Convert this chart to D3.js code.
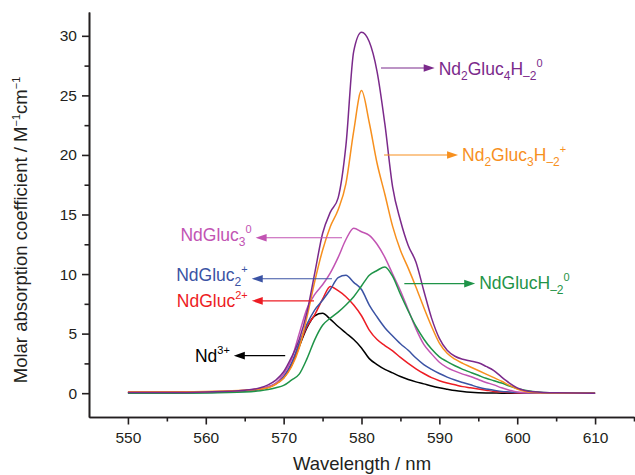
<!DOCTYPE html>
<html>
<head>
<meta charset="utf-8">
<script src="https://cdn.jsdelivr.net/npm/d3@7"></script>
<style>
  body { margin: 0; background: #fff; }
  svg { font-family: "Liberation Sans", Arial, sans-serif; }
  .axis path, .axis line { stroke: #231f20; stroke-width: 1.6; }
  .axis text { font-size: 15.5px; fill: #231f20; font-family: "Liberation Sans", Arial, sans-serif; }
</style>
</head>
<body>
<svg width="635" height="475"></svg>
<script>
// wavelength grid (nm)
var wavelength = [550, 555, 560, 565, 567, 568, 569, 570, 571, 572, 573, 574, 575, 576, 577, 578, 579, 580,
  581, 582, 583, 584, 585, 586, 587, 588, 589, 590, 591, 592, 593, 594, 595, 596, 597, 598, 599, 600, 602, 605, 610];

// molar absorption coefficients
var nd3 = [0.05, 0.05, 0.08, 0.2, 0.35, 0.5, 0.8, 1.3, 2.3, 3.9, 5.5, 6.5, 6.7, 6.2, 5.6, 5.05, 4.5, 3.8,
  2.9, 2.4, 2.0, 1.7, 1.4, 1.15, 0.95, 0.78, 0.6, 0.45, 0.33, 0.22, 0.14, 0.08, 0.04, 0.02, 0.01, 0, 0, 0, 0, 0, 0];
var ndGluc = [0.1, 0.1, 0.1, 0.2, 0.35, 0.5, 0.8, 1.3, 2.4, 4.0, 5.6, 6.6, 7.9, 8.95, 8.6, 8.1, 7.4, 6.5,
  5.3, 4.5, 4.0, 3.55, 3.0, 2.5, 2.05, 1.65, 1.3, 1.05, 0.85, 0.7, 0.55, 0.45, 0.35, 0.25, 0.15, 0.1, 0.05, 0.02, 0, 0, 0];
var ndGluc2 = [0, 0, 0.05, 0.2, 0.35, 0.5, 0.8, 1.4, 2.5, 4.2, 5.8, 7.0, 7.8, 8.7, 9.7, 9.9, 9.3, 8.7,
  7.4, 6.4, 5.5, 4.8, 4.15, 3.6, 2.95, 2.4, 2.0, 1.65, 1.35, 1.1, 0.9, 0.7, 0.5, 0.35, 0.25, 0.15, 0.1, 0.05, 0.02, 0, 0];
var ndGluc3 = [0.05, 0.05, 0.1, 0.25, 0.4, 0.55, 0.85, 1.6, 2.8, 5.0, 7.1, 8.3, 9.1, 10.1, 11.4, 12.9, 13.85, 13.55,
  13.25, 12.5, 11.4, 10.0, 8.6, 7.0, 5.4, 4.1, 3.3, 2.6, 2.15, 1.85, 1.6, 1.4, 1.15, 0.9, 0.7, 0.45, 0.25, 0.1, 0.03, 0, 0];
var ndGlucH = [0, 0, 0.02, 0.1, 0.2, 0.3, 0.45, 0.65, 1.1, 1.6, 2.9, 4.5, 5.7, 6.3, 6.8, 7.4, 8.1, 9.0,
  9.9, 10.3, 10.6, 9.8, 8.3, 6.9, 5.6, 4.55, 3.7, 3.05, 2.65, 2.3, 2.0, 1.75, 1.5, 1.25, 1.05, 0.85, 0.6, 0.4, 0.15, 0.03, 0];
var nd2Gluc3 = [0.1, 0.1, 0.15, 0.25, 0.35, 0.45, 0.75, 1.25, 2.2, 3.8, 6.4, 9.4, 12.0, 14.0, 15.4, 17.6, 22.0, 25.4,
  22.7, 19.3, 16.7, 14.0, 12.0, 10.5, 8.9, 7.2, 5.6, 4.2, 3.35, 2.85, 2.5, 2.2, 1.9, 1.6, 1.3, 1.0, 0.65, 0.35, 0.05, 0.02, 0];
var nd2Gluc4 = [0.05, 0.05, 0.1, 0.25, 0.45, 0.7, 1.1, 1.8, 3.0, 4.5, 6.8, 10.1, 13.4, 15.2, 16.4, 20.8, 28.7, 30.3,
  29.5, 27.0, 22.6, 17.3, 14.5, 12.4, 11.0, 8.6, 6.3, 4.6, 3.6, 3.1, 2.85, 2.7, 2.55, 2.25, 1.9, 1.35, 0.85, 0.45, 0.12, 0.03, 0];

var xTicks = [550, 560, 570, 580, 590, 600, 610];
var yTicks = [0, 5, 10, 15, 20, 25, 30];

// species: values, colour, label (segments) and arrow [from, to] in data units
var species = [
  { values: nd3, color: "#000000",
    label: [["Nd"], ["3+", "sup"]],
    arrow: [[570.2, 3.15], [563.6, 3.15]], dy: 6 },
  { values: ndGluc, color: "#ed1c24",
    label: [["NdGluc"], ["2+", "sup"]],
    arrow: [[573.9, 7.75], [565.9, 7.75]], dy: 6.5 },
  { values: ndGluc2, color: "#3b53a4",
    label: [["NdGluc"], ["2", "sub"], ["+", "sup"]],
    arrow: [[576.2, 9.6], [565.9, 9.6]], dy: 2.5 },
  { values: ndGluc3, color: "#c254b3",
    label: [["NdGluc"], ["3", "sub"], ["0", "sup"]],
    arrow: [[577.5, 13.05], [566.4, 13.05]], dy: 3 },
  { values: ndGlucH, color: "#1f9448",
    label: [["NdGlucH"], ["\u20132", "sub"], ["0", "sup"]],
    arrow: [[585.5, 9.2], [594.6, 9.2]], dy: 5.5 },
  { values: nd2Gluc3, color: "#f7901e",
    label: [["Nd"], ["2", "sub"], ["Gluc"], ["3", "sub"], ["H"], ["\u20132", "sub"], ["+", "sup"]],
    arrow: [[582.9, 20.0], [592.4, 20.0]], dy: 6.5 },
  { values: nd2Gluc4, color: "#7b2a8b",
    label: [["Nd"], ["2", "sub"], ["Gluc"], ["4", "sub"], ["H"], ["\u20132", "sub"], ["0", "sup"]],
    arrow: [[582.5, 27.3], [589.4, 27.3]], dy: 7 }
];

var svg = d3.select("svg");

var x = d3.scaleLinear().domain([545, 615]).range([89, 634]);
var y = d3.scaleLinear().domain([-2, 32]).range([417, 12]);

// minor ticks first, then major
svg.append("g")
    .attr("class", "axis")
    .attr("transform", "translate(0,417)")
    .call(d3.axisBottom(x).tickValues(d3.range(555, 616, 10)).tickSize(4.5).tickSizeOuter(0).tickFormat(""));
svg.append("g")
    .attr("class", "axis")
    .attr("transform", "translate(89,0)")
    .call(d3.axisLeft(y).tickValues(d3.range(2.5, 30, 5)).tickSize(4.5).tickSizeOuter(0).tickFormat(""));

svg.append("g")
    .attr("class", "axis")
    .attr("transform", "translate(0,417)")
    .call(d3.axisBottom(x).tickValues(xTicks).tickSize(7.5).tickPadding(7.5).tickSizeOuter(0));
svg.append("g")
    .attr("class", "axis")
    .attr("transform", "translate(89,0)")
    .call(d3.axisLeft(y).tickValues(yTicks).tickSize(7).tickPadding(5).tickSizeOuter(0));

// axis titles
svg.append("text")
    .attr("x", 362)
    .attr("y", 470)
    .attr("text-anchor", "middle")
    .style("font-size", "18.5px")
    .style("fill", "#231f20")
    .text("Wavelength / nm");

var yTitle = svg.append("text")
    .attr("transform", "translate(26.5,230) rotate(-90)")
    .attr("text-anchor", "middle")
    .style("font-size", "18.5px")
    .style("fill", "#231f20");
yTitle.append("tspan").text("Molar absorption coefficient / M");
yTitle.append("tspan").attr("dy", -7).style("font-size", "11px").text("\u22121");
yTitle.append("tspan").attr("dy", 7).text("cm");
yTitle.append("tspan").attr("dy", -7).style("font-size", "11px").text("\u22121");

// spectra
var line = d3.line()
    .x(function(d, i) { return x(wavelength[i]); })
    .y(function(d) { return y(d); })
    .curve(d3.curveMonotoneX);

svg.append("g")
  .selectAll("path")
  .data(species)
  .enter().append("path")
    .attr("d", function(d) { return line(d.values); })
    .style("fill", "none")
    .style("stroke", function(d) { return d.color; })
    .style("stroke-width", 1.5);

// labels with arrows
var fs = 17.5;
species.forEach(function(s) {
  var x0 = x(s.arrow[0][0]), x1 = x(s.arrow[1][0]), ay = y(s.arrow[0][1]);
  var dir = x1 > x0 ? 1 : -1;
  var g = svg.append("g").style("fill", s.color).style("stroke", s.color);

  g.append("line")
      .attr("x1", x0).attr("y1", ay)
      .attr("x2", x1 - dir * 8).attr("y2", ay)
      .style("stroke-width", 1.1);
  g.append("path")
      .attr("d", "M" + x1 + "," + ay + "L" + (x1 - dir * 11) + "," + (ay - 3.8) + "L" + (x1 - dir * 11) + "," + (ay + 3.8) + "Z")
      .style("stroke", "none");

  var t = g.append("text")
      .attr("x", x1 + dir * 4)
      .attr("y", ay + s.dy)
      .attr("text-anchor", dir > 0 ? "start" : "end")
      .style("stroke", "none")
      .style("font-size", fs + "px");

  var cur = 0;
  s.label.forEach(function(seg) {
    var off = 0, size = fs;
    if (seg[1] == "sub") { off = 5; size = 12; }
    if (seg[1] == "sup") { off = -8; size = 11; }
    t.append("tspan")
        .attr("dy", off - cur)
        .style("font-size", size + "px")
        .text(seg[0]);
    cur = off;
  });
});
</script>
</body>
</html>
